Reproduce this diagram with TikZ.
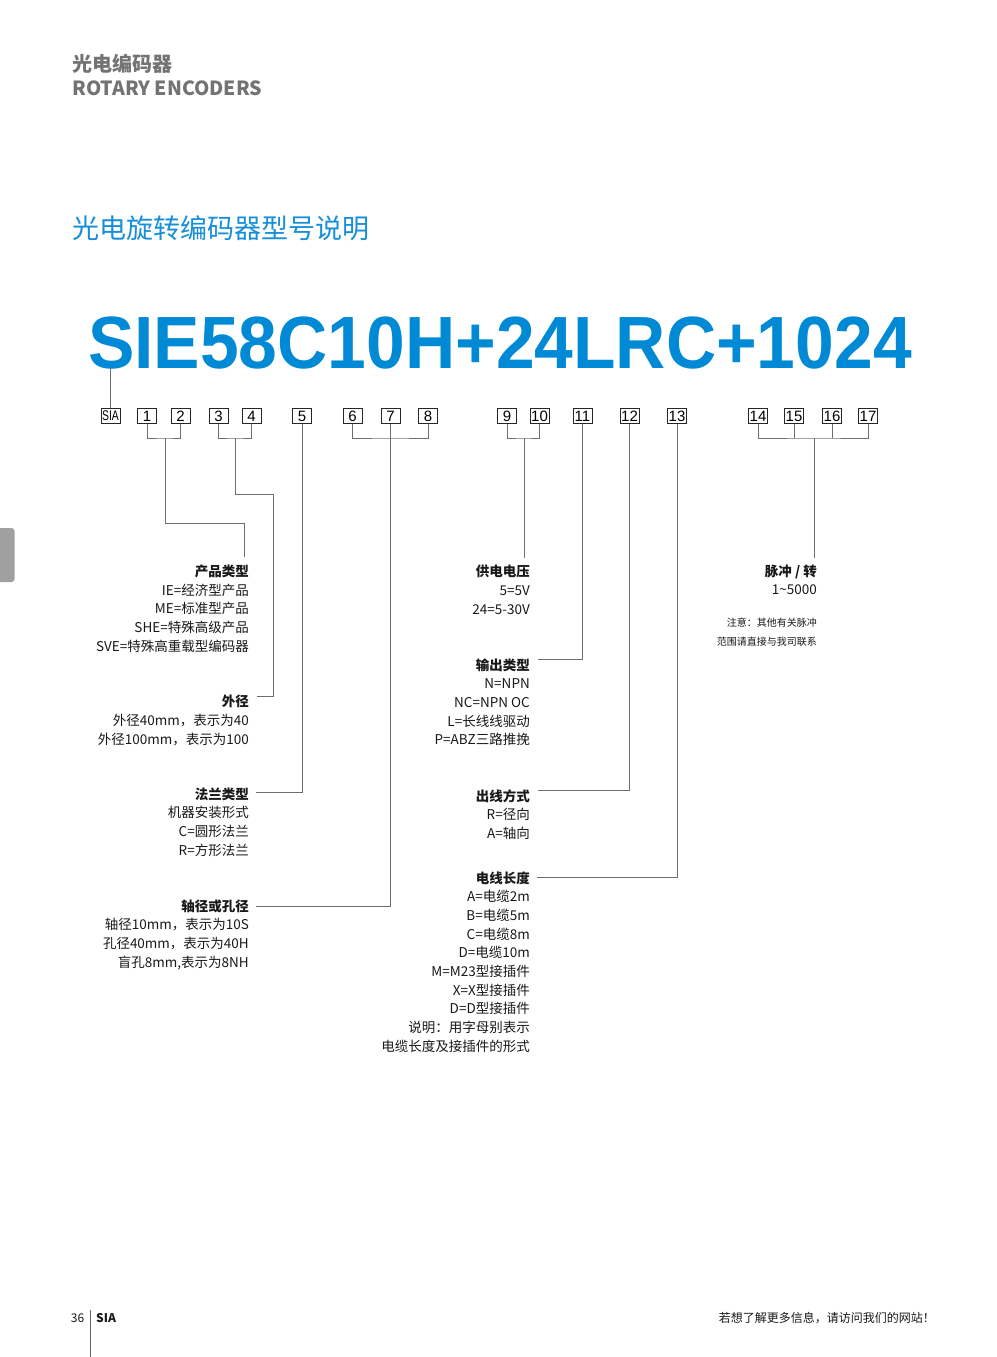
\documentclass[tikz,border=0pt]{standalone}
\usepackage{fontspec}
\usepackage{graphicx}
\setmainfont{Noto Sans CJK SC}
\newfontfamily\arialf{Liberation Sans}
\usetikzlibrary{calc}
\definecolor{siablue}{RGB}{0,137,212}
\definecolor{subblue}{RGB}{22,142,218}
\definecolor{hdgray}{RGB}{115,115,115}
\definecolor{lngray}{RGB}{110,110,110}
\definecolor{tabgray}{RGB}{160,160,160}
\definecolor{txtc}{RGB}{25,25,25}
\tikzset{
  ln/.style={draw=lngray, line width=0.9pt},
  bx/.style={draw=black!85, line width=0.7pt, fill=white, minimum width=19pt, minimum height=15.5pt, inner sep=0pt, font=\arialf\fontsize{15}{15}\selectfont},
  bd/.style={anchor=base east, inner sep=0pt, text=txtc, font=\fontsize{13.5}{16}\selectfont},
  hd/.style={bd, font=\fontsize{13.5}{16}\selectfont\bfseries},
  nt/.style={anchor=base east, inner sep=0pt, text=txtc, font=\fontsize{10}{12}\selectfont},
}
\newcommand\textblock[5]{%
  \node[hd] (#1) at (#2,#3) {#4};
  \foreach \txt [count=\i] in {#5} {\node[bd] (#1-\i) at (#2,#3+18.7*\i) {\txt};}
}
\begin{document}
\begin{tikzpicture}[x=1pt,y=-1pt]
\useasboundingbox (0,0) rectangle (996,1357);
\fill[white] (0,0) rectangle (996,1357);

% side tab
\fill[tabgray, rounded corners=3pt] (-6,528) rectangle (14.5,582);

% header
\node[anchor=base west, inner sep=0pt, text=hdgray, font=\fontsize{20}{20}\selectfont\bfseries] (hcn) at (72,71.5) {光电编码器};
\node[anchor=base west, inner sep=0pt, text=hdgray, font=\fontsize{19.5}{19.5}\selectfont\bfseries] (hen) at (72,95.7) {ROTARY ENCODERS};
\node[anchor=base west, inner sep=0pt, text=subblue, font=\fontsize{27}{27}\selectfont] (sub) at (72,238) {光电旋转编码器型号说明};

% title
\node[anchor=base, inner sep=0pt, text=siablue, font=\arialf\bfseries\fontsize{74}{74}\selectfont] (ttl) at (500,368) {\scalebox{0.94}[1]{SIE58C10H+24LRC+1024}};

% boxes
\node[bx, font=\arialf\fontsize{14}{14}\selectfont] (sia) at (110.5,416) {\scalebox{0.74}[1]{SIA}};
\foreach \n/\x in {1/147,2/180.5,3/218.5,4/251.5,5/302,6/352.5,7/390.5,8/428,9/507,10/539.5,11/582.5,12/629.5,13/677,14/758,15/794,16/832,17/868}
  {\node[bx] (b\n) at (\x,416) {\n};}

% connector coordinates
\coordinate (sT) at (110.5,368);
\coordinate (j12) at (165,438);
\coordinate (k1) at (244,523);
\coordinate (e1) at (244,557);
\coordinate (j34) at (235.7,438);
\coordinate (k2) at (273.7,494);
\coordinate (e2) at (257,696);
\coordinate (e3) at (256,792.7);
\coordinate (j68) at (390.5,438);
\coordinate (e4) at (256,906.7);
\coordinate (j910) at (524,438);
\coordinate (e5) at (524,558);
\coordinate (e6) at (538,659);
\coordinate (e7) at (538,790);
\coordinate (e8) at (537,877);
\coordinate (j1417) at (814,438);
\coordinate (e9) at (814,558);

\draw[ln] (sia.north) -- (sT);
\draw[ln] (b1.south) |- (j12) -| (b2.south);
\draw[ln] (j12) |- (k1) -- (e1);
\draw[ln] (b3.south) |- (j34) -| (b4.south);
\draw[ln] (j34) |- (k2) |- (e2);
\draw[ln] (b5.south) |- (e3);
\draw[ln] (b6.south) |- (j68) -| (b8.south);
\draw[ln] (b7.south) |- (e4);
\draw[ln] (b9.south) |- (j910) -| (b10.south);
\draw[ln] (j910) -- (e5);
\draw[ln] (b11.south) |- (e6);
\draw[ln] (b12.south) |- (e7);
\draw[ln] (b13.south) |- (e8);
\draw[ln] (b14.south) |- (j1417) -| (b17.south);
\draw[ln] (b15.south) -- (b15.south |- j1417);
\draw[ln] (b16.south) -- (b16.south |- j1417);
\draw[ln] (j1417) -- (e9);

% left column
\textblock{cplx}{249}{576.5}{产品类型}{IE=经济型产品,ME=标准型产品,SHE=特殊高级产品,SVE=特殊高重载型编码器}
\textblock{wj}{249}{706.7}{外径}{外径40mm，表示为40,外径100mm，表示为100}
\textblock{fl}{249}{799}{法兰类型}{机器安装形式,C=圆形法兰,R=方形法兰}
\textblock{zj}{249}{911}{轴径或孔径}{轴径10mm，表示为10S,孔径40mm，表示为40H,{盲孔8mm,表示为8NH}}

% middle column
\textblock{gd}{530}{576.7}{供电电压}{5=5V,24=5-30V}
\textblock{sc}{530}{670}{输出类型}{N=NPN,NC=NPN OC,L=长线线驱动,P=ABZ三路推挽}
\textblock{cx}{530}{801}{出线方式}{R=径向,A=轴向}
\textblock{dx}{530}{883}{电线长度}{A=电缆2m,B=电缆5m,C=电缆8m,D=电缆10m,M=M23型接插件,X=X型接插件,D=D型接插件,说明：用字母别表示,电缆长度及接插件的形式}

% right column
\textblock{mc}{817}{576}{脉冲 / 转}{1\textasciitilde5000}
\node[nt] (n1) at (817,626.5) {注意：其他有关脉冲};
\node[nt] (n2) at (817,645.5) {范围请直接与我司联系};

% footer
\coordinate (fa) at (90,1310);
\coordinate (fb) at (90,1357);
\draw[draw=black!60, line width=0.6pt] (fa) -- (fb);
\node[anchor=base east, inner sep=0pt, text=txtc, font=\fontsize{12}{12}\selectfont] (pg) at (84.5,1322) {36};
\node[anchor=base west, inner sep=0pt, text=txtc, font=\fontsize{12}{12}\selectfont\bfseries] (fsia) at (96,1322) {SIA};
\node[anchor=base east, inner sep=0pt, text=txtc, font=\fontsize{12}{12}\selectfont] (web) at (935,1322) {若想了解更多信息，请访问我们的网站！};
\end{tikzpicture}
\end{document}
